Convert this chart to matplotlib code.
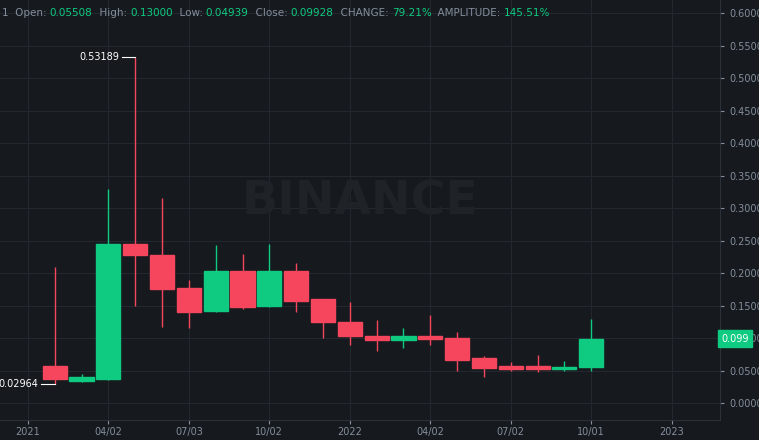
import matplotlib
matplotlib.use("Agg")
import matplotlib.pyplot as plt
from matplotlib.patches import Rectangle

months = list(range(1, 22))
opens  = [0.058,0.035,0.038,0.245,0.228,0.178,0.142,0.203,0.150,0.203,0.160,0.125,0.103,0.097,0.104,0.100,0.070,0.057,0.057,0.052,0.05508]
closes = [0.037,0.040,0.245,0.228,0.176,0.140,0.203,0.148,0.204,0.158,0.125,0.104,0.097,0.104,0.099,0.067,0.055,0.053,0.052,0.056,0.09928]
highs  = [0.210,0.045,0.330,0.53189,0.315,0.190,0.243,0.230,0.245,0.215,0.160,0.155,0.128,0.116,0.135,0.110,0.072,0.063,0.075,0.065,0.130]
lows   = [0.02964,0.033,0.036,0.150,0.117,0.115,0.140,0.145,0.148,0.140,0.100,0.090,0.080,0.085,0.090,0.050,0.040,0.050,0.048,0.050,0.04939]
tick_pos = [0,3,6,9,12,15,18,21,24]
tick_lab = ["2021","04/02","07/03","10/02","2022","04/02","07/02","10/01","2023"]
y_ticks = [i*0.05 for i in range(13)]

BG = "#161a1e"; GREEN = "#0ecb81"; RED = "#f6465d"; GRID = "#232830"; TXT = "#848e9c"
fig = plt.figure(figsize=(7.59,4.40), dpi=100, facecolor=BG)
ax = fig.add_axes([0, 0.045, 720/759, 0.955], facecolor=BG)
ax.set_xlim(-1.04, 25.8)
ax.set_ylim(-0.026, 0.62)
for m,o,c,h,l in zip(months,opens,closes,highs,lows):
    col = GREEN if c >= o else RED
    ax.vlines(m, l, h, color=col, lw=1, zorder=2)
    ax.add_patch(Rectangle((m-0.45, min(o,c)), 0.9, max(abs(c-o),0.002), color=col, zorder=3))
ax.set_xticks(tick_pos); ax.set_xticklabels(tick_lab)
ax.set_yticks(y_ticks); ax.set_yticklabels([f"{v:.4f}" for v in y_ticks])
ax.yaxis.tick_right()
ax.tick_params(colors=TXT, labelsize=7, length=3)
ax.tick_params(axis='x', pad=2)
ax.grid(color=GRID, lw=0.8)
ax.set_axisbelow(True)
for s in ax.spines.values(): s.set_visible(False)
ax.spines['right'].set_visible(True); ax.spines['right'].set_color("#2b3139")
ax.spines['bottom'].set_visible(True); ax.spines['bottom'].set_color("#2b3139")
ax.text(0.5, 0.52, "BINANCE", transform=ax.transAxes, fontsize=34, color="#1f2328", ha='center', va='center', weight='bold', zorder=1)
ax.plot([4-0.5, 4], [0.53189,0.53189], color="white", lw=0.8)
ax.text(4-0.6, 0.53189, "0.53189", color="white", fontsize=7, ha='right', va='center')
ax.plot([1-0.5, 1], [0.02964,0.02964], color="white", lw=0.8)
ax.text(1-0.6, 0.02964, "0.02964", color="white", fontsize=7, ha='right', va='center')
ax.text(25.85, 0.09928, "0.099", color="white", fontsize=7, va='center', ha='left', clip_on=False,
        bbox=dict(boxstyle='square,pad=0.35', fc=GREEN, ec=GREEN), zorder=5)
parts = [("1  Open: ",TXT),("0.05508",GREEN),("  High: ",TXT),("0.13000",GREEN),("  Low: ",TXT),("0.04939",GREEN),
         ("  Close: ",TXT),("0.09928",GREEN),("  CHANGE: ",TXT),("79.21%",GREEN),("  AMPLITUDE: ",TXT),("145.51%",GREEN)]
x = 2
r = fig.canvas.get_renderer()
for s,c in parts:
    t = fig.text(x/759, 1-13/440, s, color=c, fontsize=7.5, va='center')
    x += t.get_window_extent(r).width
fig.savefig("out.png", dpi=100, facecolor=BG)
